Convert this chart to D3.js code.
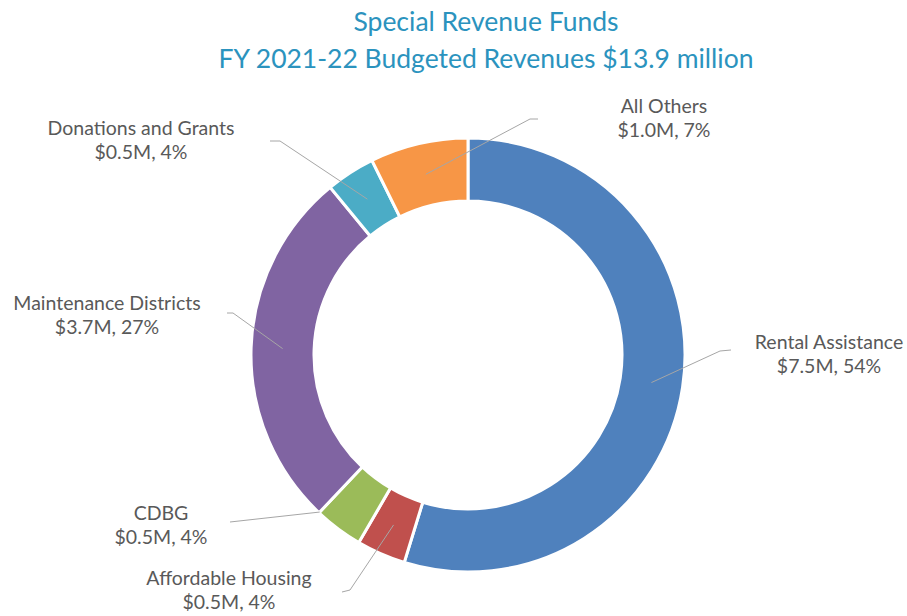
<!DOCTYPE html>
<html>
<head>
<meta charset="utf-8">
<script src="https://cdn.jsdelivr.net/npm/d3@7/dist/d3.min.js"></script>
<style>
  html, body { margin: 0; padding: 0; background: #ffffff; }
  svg { display: block; }
</style>
</head>
<body>
<svg id="chart" width="907" height="616"></svg>
<script>
// Special Revenue Funds, FY 2021-22 budgeted revenues ($ millions)
const categories = ["Rental Assistance", "Affordable Housing", "CDBG", "Maintenance Districts", "Donations and Grants", "All Others"];
const values = [7.5, 0.5, 0.5, 3.7, 0.5, 1.0];
const totalRevenue = 13.9;
const colors = ["#4F81BD", "#C0504D", "#9BBB59", "#8064A2", "#4BACC6", "#F79646"];
const titleLines = ["Special Revenue Funds", "FY 2021-22 Budgeted Revenues $13.9 million"];

// Label placement: text anchor (centre of first line), leader elbow points,
// and where the leader meets the slice ("centroid" or the outer corner at the slice end).
const labelLayout = [
  { x: 829, y: 349, leader: [[731, 350], [720, 351]], target: "centroid" },
  { x: 229, y: 585, leader: [[342, 592], [350, 590]], target: "centroid" },
  { x: 161, y: 520, leader: [[230, 522]], target: "outerEnd" },
  { x: 107, y: 310, leader: [[227, 313], [233, 313]], target: "centroid" },
  { x: 141, y: 135, leader: [[270, 141], [280, 141]], target: "centroid" },
  { x: 664, y: 113, leader: [[538, 119], [530, 119]], target: "centroid" }
];

const svg = d3.select("#chart");
const font = "Lato, 'Open Sans', sans-serif";

const cx = 468, cy = 355;
const outerR = 217, innerR = 154;

// Title
svg.append("g")
  .selectAll("text")
  .data(titleLines)
  .join("text")
  .attr("x", 486)
  .attr("y", (d, i) => 31 + i * 37)
  .attr("text-anchor", "middle")
  .attr("font-family", font)
  .attr("font-size", 26.5)
  .attr("fill", "#2B93BE")
  .text(d => d);

const data = categories.map((c, i) => ({ name: c, value: values[i], color: colors[i], layout: labelLayout[i] }));

const pie = d3.pie().value(d => d.value).sort(null);
const arcs = pie(data);
const arc = d3.arc().innerRadius(innerR).outerRadius(outerR);
const midArc = d3.arc().innerRadius((innerR + outerR) / 2).outerRadius((innerR + outerR) / 2);

const g = svg.append("g").attr("transform", `translate(${cx},${cy})`);

g.selectAll("path.slice")
  .data(arcs)
  .join("path")
  .attr("class", "slice")
  .attr("d", arc)
  .attr("fill", d => d.data.color)
  .attr("stroke", "#ffffff")
  .attr("stroke-width", 3);

// Leader lines
svg.append("g")
  .selectAll("polyline")
  .data(arcs)
  .join("polyline")
  .attr("fill", "none")
  .attr("stroke", "#A6A6A6")
  .attr("stroke-width", 1)
  .attr("points", d => {
    let p;
    if (d.data.layout.target === "outerEnd") {
      p = d3.pointRadial(d.endAngle, outerR - 1);
    } else {
      p = midArc.centroid(d);
    }
    const pts = d.data.layout.leader.concat([[cx + p[0], cy + p[1]]]);
    return pts.map(q => q.join(",")).join(" ");
  });

// Data labels
const labels = svg.append("g")
  .selectAll("text")
  .data(arcs)
  .join("text")
  .attr("text-anchor", "middle")
  .attr("font-family", font)
  .attr("font-size", 19.5)
  .attr("fill", "#595959");

labels.append("tspan")
  .attr("x", d => d.data.layout.x)
  .attr("y", d => d.data.layout.y)
  .text(d => d.data.name);

labels.append("tspan")
  .attr("x", d => d.data.layout.x)
  .attr("y", d => d.data.layout.y + 24)
  .text(d => `$${d.data.value.toFixed(1)}M, ${Math.round(d.data.value / totalRevenue * 100)}%`);
</script>
</body>
</html>
